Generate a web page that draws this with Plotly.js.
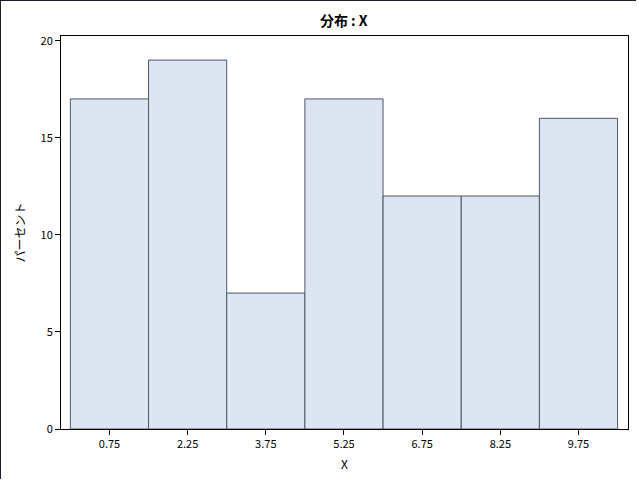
<!DOCTYPE html>
<html><head><meta charset="utf-8">
<script src="https://cdn.plot.ly/plotly-3.0.1.min.js"></script>
<style>
html,body{margin:0;padding:0;background:#fff;}
#frame{position:absolute;left:0;top:0;width:635px;height:478px;border-top:1px solid #1a1f2b;border-left:1px solid #1a1f2b;pointer-events:none;z-index:10;}
#chart{position:absolute;left:0;top:0;width:639px;height:482px;}
</style></head>
<body>
<div id="chart"></div><div id="frame"></div>
<script>
const binMidpoints = [0.75, 2.25, 3.75, 5.25, 6.75, 8.25, 9.75];
const percents = [17, 19, 7, 17, 12, 12, 16];
const binWidth = 1.5;
const tickLabels = ["0.75","2.25","3.75","5.25","6.75","8.25","9.75"];
const yTicks = [0, 5, 10, 15, 20];

const fontFam = '"Liberation Sans Narrow", "Noto Sans CJK JP", sans-serif';

Plotly.newPlot('chart', [{
  type: 'bar',
  x: binMidpoints,
  y: percents,
  width: binMidpoints.map(() => binWidth),
  marker: {color: '#dce5f1', line: {color: '#4f5766', width: 1}},
  hoverinfo: 'x+y'
}], {
  width: 639, height: 482,
  margin: {l: 61, r: 11, t: 36, b: 53},
  paper_bgcolor: '#fff', plot_bgcolor: '#fff',
  showlegend: false,
  bargap: 0,
  title: {text: '<b>分布 : X</b>', x: 0.538, xanchor: 'center', yref: 'container', y: 0.956, yanchor: 'middle',
          font: {family: '"Noto Sans CJK JP", sans-serif', size: 14, color: '#000'}},
  xaxis: {
    range: [-0.18, 10.7], tickmode: 'array', tickvals: binMidpoints, ticktext: tickLabels,
    ticks: 'outside', ticklen: 5, tickcolor: '#000', showgrid: false, zeroline: false,
    showline: true, linecolor: '#000', linewidth: 1, mirror: true,
    tickfont: {family: fontFam, size: 11, color: '#000'},
    title: {text: 'X', font: {family: fontFam, size: 12, color: '#000'}, standoff: 10}
  },
  yaxis: {
    range: [0, 20.24], tickmode: 'array', tickvals: yTicks,
    ticks: 'outside', ticklen: 5, tickcolor: '#000', showgrid: false, zeroline: false,
    showline: true, linecolor: '#000', linewidth: 1, mirror: true,
    tickfont: {family: fontFam, size: 11, color: '#000'},
    title: {text: 'パーセント', font: {family: '"Noto Sans CJK JP", sans-serif', size: 12, color: '#000'}, standoff: 12}
  }
}, {displayModeBar: false, staticPlot: true});
</script>
</body></html>
